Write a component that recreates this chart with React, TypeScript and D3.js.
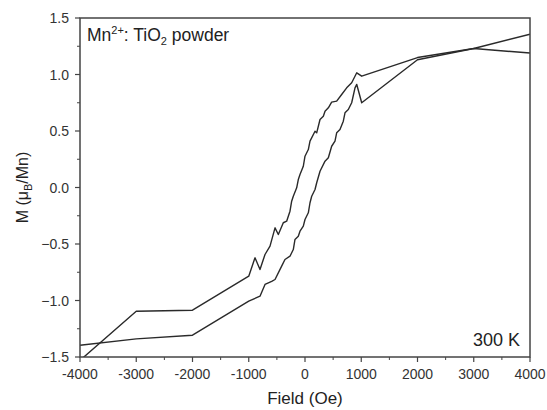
import * as d3 from "d3";

// hysteresis loop
// branch coming down from +4000 Oe
const downField = [4000, 3000, 2000, 1008, 920, 830, 741, 652, 563, 474, 415, 356, 326, 267, 208, 178, 89, 59, 0, -30, -89, -119, -148, -208, -237, -267, -326, -386, -474, -533, -622, -711, -800, -889, -1000, -2000, -3000, -4000];
const downM = [1.357, 1.23, 1.15, 0.985, 1.015, 0.927, 0.882, 0.823, 0.764, 0.755, 0.705, 0.675, 0.631, 0.602, 0.484, 0.498, 0.41, 0.336, 0.277, 0.188, 0.115, 0.07, -0.003, -0.077, -0.121, -0.21, -0.298, -0.312, -0.416, -0.357, -0.519, -0.593, -0.726, -0.622, -0.785, -1.086, -1.095, -1.53];

// branch going back up from -4000 Oe
const upField = [-4000, -3000, -2000, -1000, -800, -711, -592, -533, -415, -356, -267, -208, -178, -119, -89, -30, 0, 59, 89, 119, 178, 208, 267, 356, 415, 474, 533, 563, 622, 681, 711, 770, 830, 889, 920, 1008, 2000, 3000, 4000];
const upM = [-1.396, -1.34, -1.307, -1.006, -0.962, -0.858, -0.831, -0.814, -0.696, -0.637, -0.608, -0.549, -0.46, -0.431, -0.387, -0.342, -0.283, -0.224, -0.135, -0.077, -0.018, 0.042, 0.144, 0.233, 0.263, 0.365, 0.41, 0.484, 0.513, 0.587, 0.661, 0.69, 0.75, 0.882, 0.912, 0.75, 1.13, 1.23, 1.19];

const xTicks = [-4000, -3000, -2000, -1000, 0, 1000, 2000, 3000, 4000];
const yTicks = [-1.5, -1.0, -0.5, 0.0, 0.5, 1.0, 1.5];

const width = 547;
const height = 410;
const margin = { left: 80, right: 17, top: 18, bottom: 53 };

export default function App() {
  const x = d3.scaleLinear().domain([-4000, 4000]).range([margin.left, width - margin.right]);
  const y = d3.scaleLinear().domain([-1.5, 1.5]).range([height - margin.bottom, margin.top]);

  const line = d3.line<[number, number]>()
    .x(d => x(d[0]))
    .y(d => y(d[1]));

  const down = downField.map((f, i) => [f, downM[i]] as [number, number]);
  const up = upField.map((f, i) => [f, upM[i]] as [number, number]);

  const x0 = margin.left, x1 = width - margin.right;
  const y0 = height - margin.bottom, y1 = margin.top;
  const minorX = d3.range(-3500, 4000, 1000);
  const minorY = d3.range(-1.25, 1.5, 0.5);
  const axisColor = "#444";
  const font = "'Liberation Sans', Arial, sans-serif";

  return (
    <svg width={width} height={height} style={{ position: "absolute", left: 0, top: 0, background: "#fff" }}
      fontFamily={font}>
      <defs>
        <clipPath id="plot">
          <rect x={x0} y={y1} width={x1 - x0} height={y0 - y1} />
        </clipPath>
      </defs>

      <g clipPath="url(#plot)" fill="none" stroke="#2a2a2a" strokeWidth={1.4} strokeLinejoin="round">
        <path d={line(down) || ""} />
        <path d={line(up) || ""} />
      </g>

      {/* frame */}
      <rect x={x0} y={y1} width={x1 - x0} height={y0 - y1} fill="none" stroke={axisColor} strokeWidth={1.5} />

      {/* x ticks */}
      {xTicks.map(t => (
        <g key={"x" + t}>
          <line x1={x(t)} x2={x(t)} y1={y0} y2={y0 + 5} stroke={axisColor} strokeWidth={1.2} />
          <text x={x(t)} y={y0 + 22} textAnchor="middle" fontSize={14} fill="#333">{t}</text>
        </g>
      ))}
      {minorX.map(t => (
        <line key={"mx" + t} x1={x(t)} x2={x(t)} y1={y0} y2={y0 + 3} stroke={axisColor} strokeWidth={1} />
      ))}

      {/* y ticks */}
      {yTicks.map(t => (
        <g key={"y" + t}>
          <line x1={x0 - 5} x2={x0} y1={y(t)} y2={y(t)} stroke={axisColor} strokeWidth={1.2} />
          <text x={x0 - 11} y={y(t) + 5} textAnchor="end" fontSize={14} fill="#333">{d3.format(".1f")(t)}</text>
        </g>
      ))}
      {minorY.map(t => (
        <line key={"my" + t} x1={x0 - 3} x2={x0} y1={y(t)} y2={y(t)} stroke={axisColor} strokeWidth={1} />
      ))}

      {/* axis titles */}
      <text x={(x0 + x1) / 2} y={404} textAnchor="middle" fontSize={17} fill="#222">Field (Oe)</text>
      <text transform={`translate(28, ${(y0 + y1) / 2}) rotate(-90)`} textAnchor="middle" fontSize={16} fill="#222">
        M (μ<tspan fontSize={11} dy={4}>B</tspan><tspan dy={-4}>/Mn)</tspan>
      </text>

      {/* annotations */}
      <text x={87} y={41} fontSize={17.5} fill="#222">
        Mn<tspan fontSize={11} dy={-7}>2+</tspan><tspan dy={7}>: TiO</tspan><tspan fontSize={11} dy={4}>2</tspan><tspan dy={-4}> powder</tspan>
      </text>
      <text x={x1 - 10} y={346} textAnchor="end" fontSize={18} fill="#222">300 K</text>
    </svg>
  );
}
